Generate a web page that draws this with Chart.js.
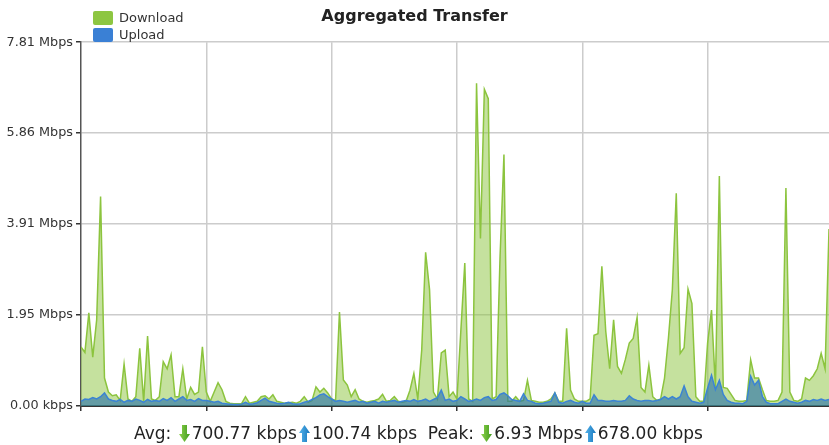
<!DOCTYPE html>
<html>
<head>
<meta charset="utf-8">
<script src="https://cdn.jsdelivr.net/npm/chart.js@4.4.0/dist/chart.umd.min.js"></script>
<style>
  html, body { margin: 0; padding: 0; background: #fff; }
  #wrap { position: relative; width: 829px; height: 445px; font-family: "DejaVu Sans", sans-serif; }
  #legend { position: absolute; left: 93px; top: 9px; font-size: 13px; color: #333; }
  .item { display: flex; align-items: center; height: 17px; }
  .box { width: 20px; height: 14px; border-radius: 2px; margin-right: 6px; }
  #footer { position: absolute; left: 4px; top: 423px; width: 829px; text-align: center; font-size: 17px; line-height: 20px; color: #222; white-space: nowrap; }
  #footer svg { vertical-align: -3px; margin: 0 2px; }
</style>
</head>
<body>
<div id="wrap">
  <canvas id="chart" width="829" height="445"></canvas>
  <div id="legend"></div>
  <div id="footer"></div>
</div>
<script>
// values in Mbps, one sample per step (192 samples across the plot)
const seriesLabels = ['Download', 'Upload'];

const download = [
  1.27, 1.15, 2.0, 1.05, 1.85, 4.5, 0.6, 0.3, 0.22, 0.24, 0.12, 0.9, 0.15, 0.1, 0.2, 1.24,
  0.1, 1.5, 0.15, 0.12, 0.2, 0.95, 0.8, 1.1, 0.2, 0.2, 0.8, 0.15, 0.4, 0.25, 0.3, 1.27,
  0.3, 0.1, 0.3, 0.5, 0.35, 0.1, 0.06, 0.05, 0.05, 0.05, 0.2, 0.06, 0.08, 0.1, 0.2, 0.22,
  0.15, 0.24, 0.1, 0.08, 0.06, 0.07, 0.08, 0.06, 0.1, 0.2, 0.08, 0.12, 0.41, 0.3, 0.38, 0.28,
  0.15, 0.12, 2.02, 0.56, 0.45, 0.2, 0.35, 0.15, 0.1, 0.08, 0.1, 0.12, 0.15, 0.25, 0.1, 0.12,
  0.2, 0.1, 0.08, 0.1, 0.34, 0.7, 0.15, 1.2, 3.3, 2.5, 0.3, 0.15, 1.14, 1.2, 0.2, 0.3,
  0.15, 1.63, 3.07, 0.15, 0.1, 6.93, 3.6, 6.8, 6.6, 0.15, 0.2, 3.2, 5.4, 0.1, 0.1, 0.2,
  0.1, 0.12, 0.55, 0.12, 0.1, 0.08, 0.08, 0.1, 0.15, 0.28, 0.1, 0.1, 1.67, 0.34, 0.15, 0.1,
  0.1, 0.1, 0.15, 1.52, 1.55, 3.0, 1.6, 0.8, 1.85, 0.85, 0.7, 1.0, 1.35, 1.45, 1.9, 0.4,
  0.3, 0.88, 0.2, 0.12, 0.15, 0.6, 1.46, 2.5, 4.57, 1.13, 1.25, 2.51, 2.2, 0.2, 0.1, 0.1,
  1.35, 2.06, 0.4, 4.94, 0.4, 0.38, 0.25, 0.12, 0.1, 0.1, 0.12, 0.99, 0.6, 0.6, 0.35, 0.12,
  0.1, 0.1, 0.12, 0.3, 4.68, 0.3, 0.12, 0.1, 0.15, 0.6, 0.55, 0.65, 0.8, 1.13, 0.8, 3.8
];

const upload = [
  0.1, 0.15, 0.14, 0.18, 0.15, 0.2, 0.28, 0.15, 0.12, 0.1, 0.14, 0.08, 0.12, 0.1, 0.15, 0.12,
  0.08, 0.14, 0.1, 0.12, 0.1, 0.16, 0.12, 0.18, 0.1, 0.15, 0.2, 0.12, 0.14, 0.1, 0.16, 0.12,
  0.12, 0.1, 0.08, 0.1, 0.06, 0.05, 0.04, 0.03, 0.03, 0.04, 0.08, 0.04, 0.05, 0.07, 0.12, 0.17,
  0.1, 0.08, 0.06, 0.05, 0.06, 0.08, 0.05, 0.04, 0.05, 0.08, 0.1, 0.14, 0.18, 0.24, 0.26, 0.2,
  0.15, 0.1, 0.12, 0.1, 0.08, 0.1, 0.12, 0.08, 0.1, 0.06, 0.08, 0.1, 0.06, 0.1, 0.08, 0.1,
  0.12, 0.08, 0.1, 0.12, 0.1, 0.14, 0.1, 0.12, 0.15, 0.1, 0.14, 0.18, 0.34, 0.12, 0.15, 0.1,
  0.12, 0.2, 0.15, 0.1, 0.12, 0.15, 0.12, 0.18, 0.2, 0.12, 0.14, 0.25, 0.28, 0.22, 0.14, 0.12,
  0.1, 0.26, 0.12, 0.1, 0.06, 0.05, 0.06, 0.08, 0.1, 0.28, 0.08, 0.06, 0.1, 0.12, 0.08, 0.06,
  0.1, 0.06, 0.06, 0.24, 0.12, 0.12, 0.1, 0.1, 0.12, 0.1, 0.1, 0.12, 0.22, 0.15, 0.12, 0.1,
  0.12, 0.12, 0.1, 0.12, 0.14, 0.2, 0.15, 0.2, 0.15, 0.2, 0.43, 0.2, 0.1, 0.08, 0.06, 0.08,
  0.38, 0.66, 0.35, 0.55, 0.25, 0.12, 0.08, 0.06, 0.06, 0.05, 0.1, 0.64, 0.45, 0.55, 0.2, 0.08,
  0.05, 0.05, 0.05, 0.1, 0.15, 0.1, 0.08, 0.06, 0.08, 0.12, 0.1, 0.14, 0.12, 0.15, 0.12, 0.14
];

const yTickValues = [0, 1.953125, 3.90625, 5.859375, 7.8125];
const yTickLabels = ['0.00 kbps', '1.95 Mbps', '3.91 Mbps', '5.86 Mbps', '7.81 Mbps'];
const xGridSteps = [0, 32, 64, 96, 128, 160];

const avgDown = '700.77 kbps', avgUp = '100.74 kbps';
const peakDown = '6.93 Mbps', peakUp = '678.00 kbps';

const colors = {
  down: '#8cc43e', downFill: 'rgba(140, 196, 62, 0.5)',
  up: '#3b84d4', upFill: 'rgba(35, 110, 170, 0.6)',
  downBox: '#8dc641', upBox: '#3a80d5'
};

function toPoints(values) {
  return values.map((v, i) => ({ x: i, y: v }));
}

const font = 'DejaVu Sans';

new Chart(document.getElementById('chart'), {
  type: 'line',
  data: {
    datasets: [{
      label: seriesLabels[0],
      data: toPoints(download),
      borderColor: colors.down,
      backgroundColor: colors.downFill,
      fill: 'origin',
      borderWidth: 1.5,
      pointRadius: 0,
      tension: 0,
      order: 1
    }, {
      label: seriesLabels[1],
      data: toPoints(upload),
      borderColor: colors.up,
      backgroundColor: colors.upFill,
      fill: 'origin',
      borderWidth: 1.5,
      pointRadius: 0,
      tension: 0,
      order: 0
    }]
  },
  options: {
    responsive: false,
    animation: false,
    layout: { padding: 0 },
    plugins: {
      legend: { display: false },
      tooltip: { enabled: false },
      title: {
        display: true,
        text: 'Aggregated Transfer',
        color: '#222',
        font: { family: font, size: 16, weight: 'bold' },
        padding: { top: 7, bottom: 16 }
      }
    },
    scales: {
      x: {
        type: 'linear',
        min: 0,
        max: download.length - 1,
        afterBuildTicks: s => { s.ticks = xGridSteps.map(v => ({ value: v })); },
        afterFit: s => { s.height = 39; },
        ticks: { display: false },
        grid: {
          color: c => (c.tick && c.tick.value === 0) ? 'rgba(0,0,0,0)' : '#cccccc',
          lineWidth: 1.5,
          tickLength: 5,
          tickColor: '#333'
        },
        border: { color: '#333', width: 2 }
      },
      y: {
        min: 0,
        max: yTickValues[yTickValues.length - 1],
        afterBuildTicks: s => { s.ticks = yTickValues.map(v => ({ value: v })); },
        afterFit: s => { s.width = 81; },
        ticks: {
          callback: (v, i) => yTickLabels[i],
          color: '#333',
          padding: 3,
          font: { family: font, size: 12.8 }
        },
        grid: {
          color: c => (c.tick && c.tick.value === 0) ? 'rgba(0,0,0,0)' : '#cccccc',
          lineWidth: 1.5,
          tickLength: 5,
          tickColor: '#333'
        },
        border: { color: '#555', width: 1.5 }
      }
    }
  }
});

// legend, top left
const legend = document.getElementById('legend');
[[seriesLabels[0], colors.downBox], [seriesLabels[1], colors.upBox]].forEach(([name, col]) => {
  const row = document.createElement('div');
  row.className = 'item';
  row.innerHTML = '<span class="box" style="background:' + col + '"></span><span>' + name + '</span>';
  legend.appendChild(row);
});

// footer with arrows
function arrow(dir) {
  const green = dir === 'down';
  const c1 = green ? '#8fd34e' : '#55b4ec';
  const c2 = green ? '#3f9a1c' : '#1877bd';
  const pts = green ? '3,0 8,0 8,9 11,9 5.5,17 0,9 3,9' : '5.5,0 11,8 8,8 8,17 3,17 3,8 0,8';
  const id = 'g' + dir;
  return '<svg width="11" height="17" viewBox="0 0 11 17"><defs><linearGradient id="' + id +
    '" x1="0" x2="1" y1="0" y2="0"><stop offset="0" stop-color="' + c1 + '"/><stop offset="1" stop-color="' +
    c2 + '"/></linearGradient></defs><polygon points="' + pts + '" fill="url(#' + id + ')"/></svg>';
}
document.getElementById('footer').innerHTML =
  'Avg: ' + arrow('down') + avgDown + arrow('up') + avgUp +
  '&nbsp; Peak: ' + arrow('down') + peakDown + arrow('up') + peakUp;
</script>
</body>
</html>
